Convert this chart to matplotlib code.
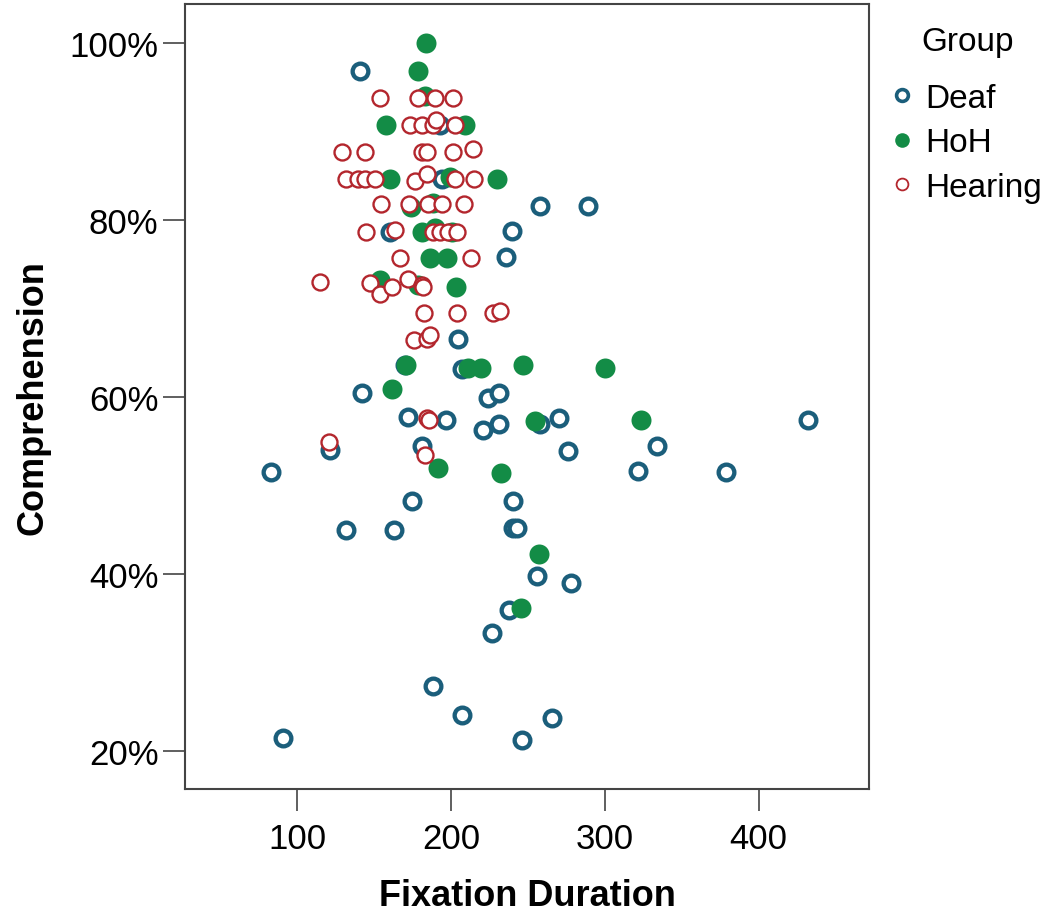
import matplotlib
matplotlib.use("Agg")
import matplotlib.pyplot as plt
from matplotlib.lines import Line2D
from matplotlib.ticker import FuncFormatter

plt.rcParams['font.family'] = ['Liberation Sans', 'DejaVu Sans']

# values: fixation duration (ms) and comprehension (%)
deaf_x = [140.7, 192.7, 193.8, 257.8, 289.2, 160.2, 239.4, 235.5, 204.7, 170.0,
          206.8, 142.4, 224.1, 231.3, 172.1, 196.6, 220.9, 231.3, 257.8, 270.3,
          432.0, 121.6, 181.4, 276.2, 333.7, 82.6, 321.8, 378.8, 174.9, 240.4,
          131.6, 162.8, 240.0, 242.6, 256.0, 278.0, 237.8, 226.3, 188.4, 206.8,
          265.9, 90.8, 245.9]
deaf_y = [96.9, 90.8, 84.7, 81.65, 81.65, 78.7, 78.8, 75.8, 66.6, 63.6,
          63.2, 60.5, 59.9, 60.5, 57.8, 57.4, 56.3, 57.0, 57.0, 57.6,
          57.4, 54.0, 54.5, 53.9, 54.45, 51.5, 51.6, 51.55, 48.3, 48.3,
          45.0, 45.0, 45.2, 45.2, 39.75, 39.0, 35.9, 33.3, 27.3, 24.1,
          23.75, 21.4, 21.2]

hoh_x = [183.6, 178.6, 183.0, 157.5, 208.9, 160.2, 199.2, 230.0, 173.8, 188.4,
         180.8, 189.5, 200.3, 186.2, 197.1, 153.7, 178.6, 203.1, 171.0, 211.1,
         219.2, 246.9, 300.1, 161.9, 254.5, 323.3, 191.6, 232.2, 257.3, 245.2]
hoh_y = [100.0, 96.9, 94.0, 90.8, 90.8, 84.7, 84.9, 84.7, 81.5, 82.0,
         78.7, 79.1, 78.7, 75.7, 75.7, 73.2, 72.7, 72.4, 63.6, 63.3,
         63.3, 63.6, 63.3, 60.9, 57.3, 57.4, 52.0, 51.4, 42.2, 36.1]

hearing_x = [153.7, 178.6, 189.5, 201.4,
             173.2, 180.8, 188.4, 189.9, 202.5,
             128.8, 144.3, 180.8, 184.1, 201.4, 214.4,
             131.6, 139.6, 143.9, 150.4, 176.5, 184.1, 202.5, 215.1,
             154.3, 172.5, 185.1, 193.8, 208.5,
             144.6, 163.4, 188.4, 192.7, 198.1, 203.6,
             166.7, 212.9,
             115.1, 147.2, 153.7, 161.3, 171.7, 181.2, 181.9,
             182.3, 204.0, 227.0, 231.7,
             175.8, 184.1, 186.2,
             184.1, 185.8, 120.7, 183.0]
hearing_y = [93.8, 93.8, 93.8, 93.8,
             90.8, 90.8, 90.8, 91.3, 90.8,
             87.75, 87.75, 87.75, 87.75, 87.75, 88.0,
             84.7, 84.7, 84.7, 84.7, 84.4, 85.2, 84.7, 84.7,
             81.8, 81.8, 81.8, 81.8, 81.8,
             78.7, 78.9, 78.7, 78.7, 78.7, 78.7,
             75.7, 75.7,
             73.0, 72.9, 71.7, 72.5, 73.4, 72.7, 72.5,
             69.5, 69.5, 69.5, 69.7,
             66.4, 66.6, 67.0,
             57.6, 57.4, 54.9, 53.5]

deaf_col = '#1b5e7b'
hoh_col = '#138c46'
hearing_col = '#b3262d'

fig = plt.figure(figsize=(10.51, 9.12), dpi=100)
ax = fig.add_axes([0.176, 0.134, 0.651, 0.861])

ax.plot(deaf_x, deaf_y, 'o', ls='none', ms=11.3, mfc='white', mec=deaf_col, mew=3.1)
ax.plot(hoh_x, hoh_y, 'o', ls='none', ms=14.4, mfc=hoh_col, mec='none')
ax.plot(hearing_x, hearing_y, 'o', ls='none', ms=11.5, mfc='white', mec=hearing_col, mew=1.7)

ax.set_xlim(27, 471.8)
ax.set_ylim(15.7, 104.5)
ax.set_xticks([100, 200, 300, 400])
ax.set_yticks([20, 40, 60, 80, 100])
ax.yaxis.set_major_formatter(FuncFormatter(lambda v, p: '%d%%' % v))

for s in ax.spines.values():
    s.set_color('#444444')
    s.set_linewidth(1.5)
ax.tick_params(length=16, width=1.2, color='#444444', labelsize=25, pad=3)
ax.tick_params(axis='x', pad=8)

ax.set_xlabel('Fixation Duration', fontsize=26, fontweight='bold')
ax.set_ylabel('Comprehension', fontsize=26, fontweight='bold')
ax.xaxis.set_label_coords(0.5, -0.113)
ax.yaxis.set_label_coords(-0.196, 0.5)

# legend title drawn on its own so its gap to the entries matches
fig.text(968 / 1051, 1 - 43 / 912, 'Group', fontsize=24, ha='center', va='center')
handles = [
    Line2D([], [], marker='o', ls='none', ms=8.5, mfc='white', mec=deaf_col, mew=2.6),
    Line2D([], [], marker='o', ls='none', ms=10.5, mfc=hoh_col, mec='none'),
    Line2D([], [], marker='o', ls='none', ms=8.5, mfc='white', mec=hearing_col, mew=1.3),
]
ax.legend(handles, ['Deaf', 'HoH', 'Hearing'],
          loc='upper left', bbox_to_anchor=(890 / 1051, 1 - 84 / 912),
          bbox_transform=fig.transFigure, frameon=False,
          fontsize=24, handlelength=0.7,
          handletextpad=0.35, labelspacing=0.4, borderpad=0, borderaxespad=0)

fig.savefig('out.png', dpi=100)
